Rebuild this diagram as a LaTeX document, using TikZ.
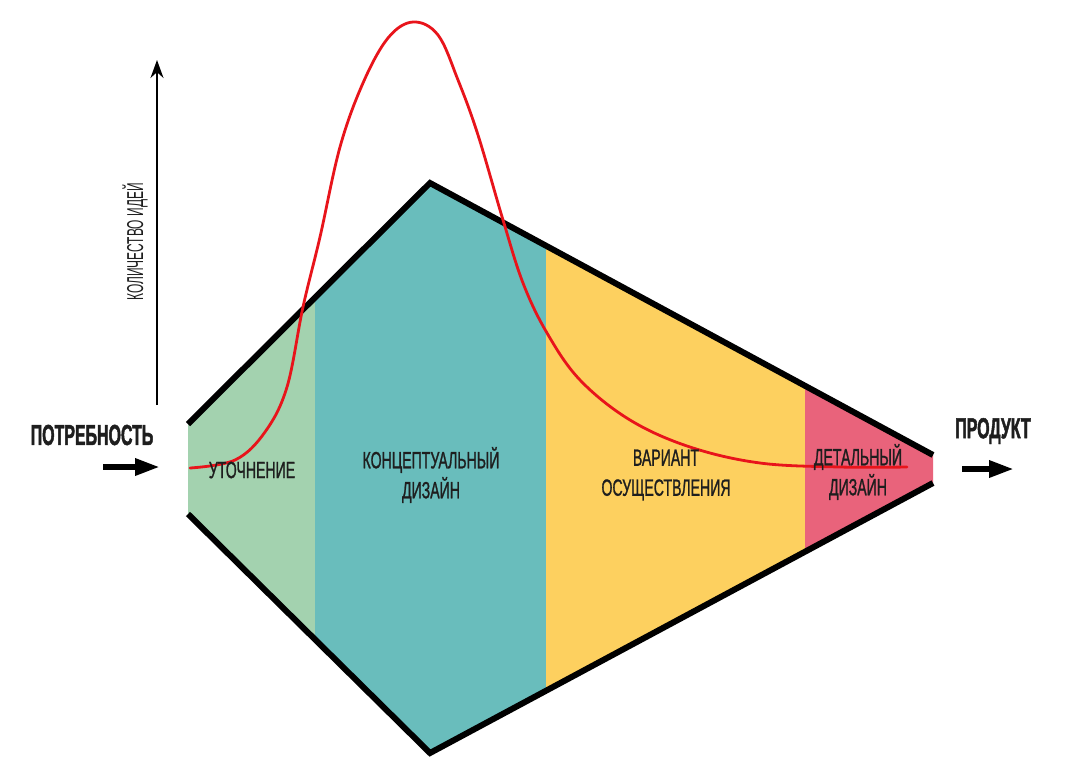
\documentclass[tikz,border=0pt]{standalone}
\usepackage{fontspec}
\setmainfont{Liberation Sans}
\newfontfamily\lblfont[FakeStretch=0.6,FakeBold=1]{Liberation Sans}
\newfontfamily\ttlfont[FakeStretch=0.55,FakeBold=1.5]{Liberation Sans}
\newfontfamily\axfont[FakeStretch=0.52]{Liberation Sans}
\usetikzlibrary{arrows.meta}
\definecolor{cgreen}{HTML}{A3D2AF}
\definecolor{cteal}{HTML}{69BDBC}
\definecolor{cyellow}{HTML}{FDD05F}
\definecolor{cpink}{HTML}{E9637B}
\definecolor{cred}{HTML}{E8141B}
\definecolor{ctext}{HTML}{1E1E1E}
\tikzset{
  band/.style={text=ctext, align=center, inner sep=0pt, font=\lblfont\fontsize{23.5}{30}\selectfont},
  title/.style={text=ctext, inner sep=0pt, font=\ttlfont\bfseries\fontsize{29}{30}\selectfont},
  axlabel/.style={text=ctext, inner sep=0pt, rotate=90, font=\axfont\fontsize{23}{24}\selectfont},
  edge/.style={line width=6pt, black, line join=miter},
  bigarrow/.style={line width=6pt, -{Triangle[length=25pt,width=16pt]}},
  axarrow/.style={line width=1.5pt, -{Stealth[length=18pt,width=13pt]}},
  idea/.style={cred, line width=2.8pt, line cap=round}
}
\begin{document}
\begin{tikzpicture}[x=1pt,y=-1pt]
\useasboundingbox (0,0) rectangle (1083,780);
% shape corners
\coordinate (L1) at (188,424);
\coordinate (T) at (430,183);
\coordinate (R1) at (933,455);
\coordinate (R2) at (933,483);
\coordinate (B) at (430,753);
\coordinate (L2) at (188,514);
% bands
\begin{scope}
  \clip (L1) -- (T) -- (R1) -- (R2) -- (B) -- (L2) -- cycle;
  \fill[cgreen] (180,150) rectangle (315,770);
  \fill[cteal] (315,150) rectangle (546,770);
  \fill[cyellow] (546,150) rectangle (805,770);
  \fill[cpink] (805,150) rectangle (940,770);
\end{scope}
\draw[edge] (L1) -- (T) -- (R1);
\draw[edge] (L2) -- (B) -- (R2);
% idea curve
\draw[idea] plot[smooth, tension=0.6] coordinates {
 (190,468) (235,460) (265,432) (287,387) (303,307) (320,237) (340,147)
 (363,83) (388,38) (413,22) (438,35) (458,80) (478,135) (503,220)
 (523,283) (547,333) (580,380) (630,420) (690,447) (760,463) (840,467) (907,467)};
% band labels
\node[band] (utoch) at (252,470) {УТОЧНЕНИЕ};
\node[band] (konc) at (431,475) {КОНЦЕПТУАЛЬНЫЙ\\ДИЗАЙН};
\node[band] (var) at (666,475) {ВАРИАНТ\\ОСУЩЕСТВЛЕНИЯ};
\node[band] (det) at (858,472) {ДЕТАЛЬНЫЙ\\ДИЗАЙН};
% titles
\node[title] (need) at (92,435) {ПОТРЕБНОСТЬ};
\node[title] (prod) at (993,431) {ПРОДУКТ};
\node[axlabel] (ax) at (135,242) {КОЛИЧЕСТВО ИДЕЙ};
% arrows
\coordinate (inA) at (103,467);
\coordinate (inB) at (160,467);
\coordinate (outA) at (962,469);
\coordinate (outB) at (1014,469);
\coordinate (axA) at (157,405);
\coordinate (axB) at (157,60);
\draw[bigarrow] (inA) -- (inB);
\draw[bigarrow] (outA) -- (outB);
\draw[axarrow] (axA) -- (axB);
\end{tikzpicture}
\end{document}
